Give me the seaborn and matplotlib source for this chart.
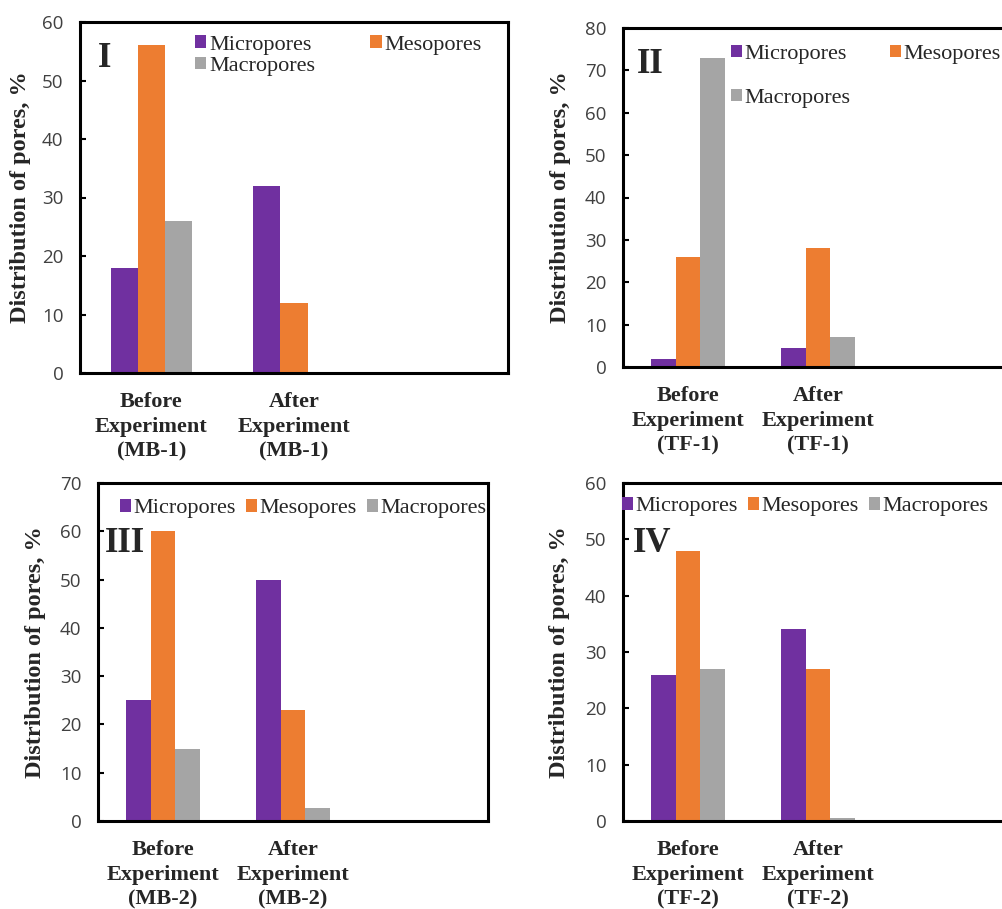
import matplotlib
matplotlib.use("Agg")
import matplotlib.pyplot as plt
import pandas as pd
import seaborn as sns

# pore distribution, %
pore_types = ["Micropores", "Mesopores", "Macropores"]
pore_colors = ["#7030A0", "#ED7D31", "#A5A5A5"]

panel_names = ["I", "II", "III", "IV"]
sample_codes = ["MB-1", "TF-1", "MB-2", "TF-2"]
y_max = [60, 80, 70, 60]

micro_before = [18, 2, 25, 26]
meso_before = [56, 26, 60, 48]
macro_before = [26, 73, 15, 27]
micro_after = [32, 4.5, 50, 34]
meso_after = [12, 28, 23, 27]
macro_after = [0, 7, 2.7, 0.6]

SERIF = "Liberation Serif"
SANS = "Open Sans"

sns.set_theme(style="white")
plt.rcParams["font.family"] = [SERIF, "DejaVu Serif"]


def panel_frame(i: int) -> pd.DataFrame:
    code = sample_codes[i]
    before = f"Before\nExperiment\n({code})"
    after = f"After\nExperiment\n({code})"
    rows = []
    for pore, vb, va in zip(
        pore_types,
        [micro_before[i], meso_before[i], macro_before[i]],
        [micro_after[i], meso_after[i], macro_after[i]],
    ):
        rows.append({"stage": before, "pore": pore, "value": vb})
        rows.append({"stage": after, "pore": pore, "value": va})
    return pd.DataFrame(rows), [before, after, " "]


# axes rectangles in figure fraction (left, bottom, width, height)
W, H = 1002, 909
rects = [
    (80 / W, (H - 373) / H, 428 / W, 351 / H),
    (623 / W, (H - 367) / H, 390 / W, 339 / H),
    (98 / W, (H - 821) / H, 390 / W, 338 / H),
    (623 / W, (H - 821) / H, 390 / W, 338 / H),
]
ylabel_x = [-0.115, -0.134, -0.133, -0.135]
label_pos = [(0.057, 0.895), (0.069, 0.891), (0.069, 0.82), (0.074, 0.82)]

# legend settings: anchor, ncol, columnspacing, labelspacing
legend_opts = [
    dict(anchor=(0.269, 0.962), ncol=2, colsp=2.5, labsp=0.1, order=[0, 2, 1]),
    dict(anchor=(0.277, 0.951), ncol=2, colsp=1.75, labsp=1.12, order=[0, 2, 1]),
    dict(anchor=(0.056, 0.953), ncol=3, colsp=0.45, labsp=0.0, order=[0, 1, 2]),
    dict(anchor=(-0.003, 0.958), ncol=3, colsp=0.45, labsp=0.0, order=[0, 1, 2]),
]

fig = plt.figure(figsize=(W / 100, H / 100), dpi=100)
palette = dict(zip(pore_types, pore_colors))

for i in range(4):
    df, order = panel_frame(i)
    ax = fig.add_axes(rects[i])
    sns.barplot(
        data=df,
        x="stage",
        y="value",
        hue="pore",
        order=order,
        hue_order=pore_types,
        palette=palette,
        width=0.57,
        gap=0,
        saturation=1,
        linewidth=0,
        ax=ax,
    )
    ax.set_xlim(-0.5, 2.5)
    ax.set_ylim(0, y_max[i])
    ax.set_yticks(range(0, y_max[i] + 1, 10))
    ax.set_xlabel("")
    ax.set_ylabel("Distribution of pores, %", fontsize=17.5, fontweight="bold", family=[SERIF])
    ax.yaxis.set_label_coords(ylabel_x[i], 0.5)

    for s in ax.spines.values():
        s.set_visible(True)
        s.set_color("black")
        s.set_linewidth(2.2)

    ax.tick_params(axis="y", direction="in", length=4, width=1.5, color="black",
                   left=True, pad=12, labelsize=13.5, labelcolor="#404040")
    ax.tick_params(axis="x", bottom=False, pad=8, labelsize=16)
    for t in ax.get_yticklabels():
        t.set_family([SANS, "DejaVu Sans"])
    for t in ax.get_xticklabels():
        t.set_fontweight("bold")
        t.set_linespacing(1.3)

    ax.text(*label_pos[i], panel_names[i], transform=ax.transAxes, ha="center",
            va="center", fontsize=25, fontweight="bold")

    handles, labels = ax.get_legend_handles_labels()
    ax.get_legend().remove()
    opt = legend_opts[i]
    ax.legend(
        [handles[k] for k in opt["order"]],
        [labels[k] for k in opt["order"]],
        loc="upper left",
        bbox_to_anchor=opt["anchor"],
        ncol=opt["ncol"],
        frameon=False,
        fontsize=16,
        borderpad=0,
        borderaxespad=0,
        handlelength=0.5,
        handleheight=0.5,
        handletextpad=0.12,
        columnspacing=opt["colsp"],
        labelspacing=opt["labsp"],
    )

fig.savefig("out.png", dpi=100)
